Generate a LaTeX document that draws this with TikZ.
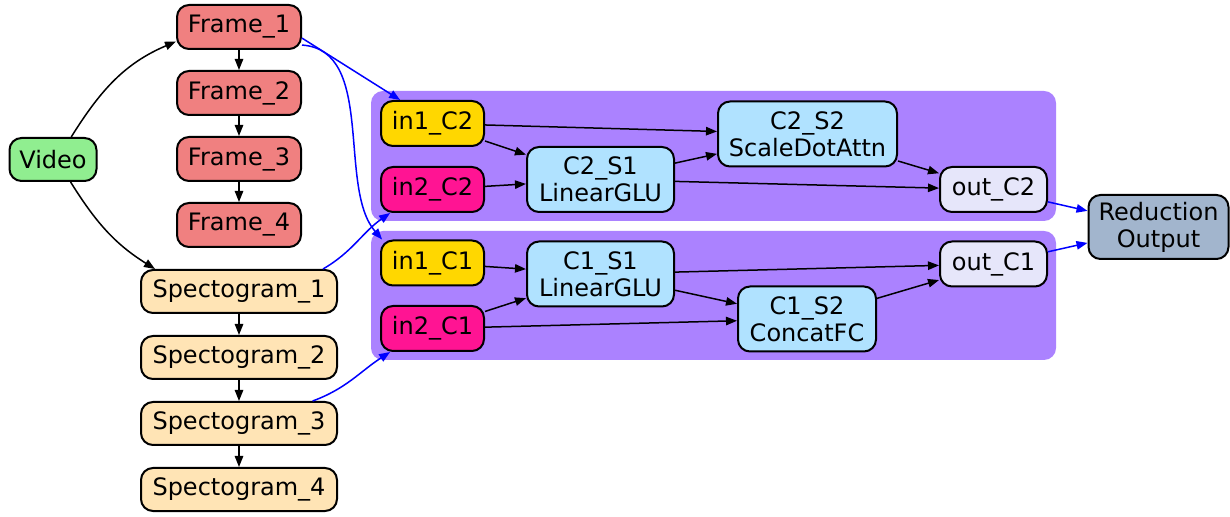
\documentclass[tikz,border=0pt]{standalone}
\usepackage{fontspec}
\setmainfont{DejaVu Sans}
\usepackage{tikz}
\usetikzlibrary{positioning,arrows.meta}
\definecolor{videocol}{HTML}{90EE90}
\definecolor{framecol}{HTML}{F08080}
\definecolor{speccol}{HTML}{FFE4B5}
\definecolor{in1col}{HTML}{FFD700}
\definecolor{in2col}{HTML}{FF1493}
\definecolor{stagecol}{HTML}{B0E2FF}
\definecolor{outcol}{HTML}{E6E6FA}
\definecolor{redcol}{HTML}{A2B5CD}
\definecolor{clustercol}{HTML}{AB82FF}

\begin{document}
\begin{tikzpicture}[x=0.5pt,y=0.5pt,
        box/.style={draw,line width=1pt,rounded corners=6pt,inner sep=0pt,align=center,font=\fontsize{12}{13.5}\selectfont},
        framebox/.style={box,fill=framecol,minimum width=62pt,minimum height=22pt},
        specbox/.style={box,fill=speccol,minimum width=98pt,minimum height=21.5pt},
        inbox/.style={box,minimum width=51.5pt,minimum height=22.5pt},
        stagebox/.style={box,fill=stagecol,minimum height=32.5pt},
        outbox/.style={box,fill=outcol,minimum width=53.5pt,minimum height=22.5pt},
        cluster/.style={fill=clustercol,rounded corners=6pt,inner sep=0pt,minimum width=342.5pt},
        edge/.style={-{Triangle[length=5.5pt,width=4.2pt]},line width=0.75pt},
        link/.style={edge,blue}]
        \useasboundingbox (0,0) rectangle (1230,-517);
        % clusters
        \node[cluster,minimum height=65pt] (clC2) at (713.5,-156) {};
        \node[cluster,minimum height=64.5pt] (clC1) at (713.5,-295.5) {};
        % inputs
        \node[box,fill=videocol,minimum width=43.5pt,minimum height=21.5pt] (video) at (53,-159.5) {Video};
        \node[framebox] (f1) at (239,-27) {Frame\_1};
        \node[framebox,below=10pt of f1] (f2) {Frame\_2};
        \node[framebox,below=10pt of f2] (f3) {Frame\_3};
        \node[framebox,below=10pt of f3] (f4) {Frame\_4};
        \node[specbox] (s1) at (239,-291.5) {Spectogram\_1};
        \node[specbox,below=10.5pt of s1] (s2) {Spectogram\_2};
        \node[specbox,below=10.5pt of s2] (s3) {Spectogram\_3};
        \node[specbox,below=10.5pt of s3] (s4) {Spectogram\_4};
        % C2
        \node[inbox,fill=in1col] (in1C2) at (432.5,-123.5) {in1\_C2};
        \node[inbox,fill=in2col] (in2C2) at (432.5,-189.5) {in2\_C2};
        \node[stagebox,minimum width=73.5pt] (C2S1) at (600.5,-179.5) {C2\_S1\\LinearGLU};
        \node[stagebox,minimum width=89.5pt] (C2S2) at (807.5,-134) {C2\_S2\\ScaleDotAttn};
        \node[outbox] (outC2) at (993.5,-189.5) {out\_C2};
        % C1
        \node[inbox,fill=in1col] (in1C1) at (432.5,-263) {in1\_C1};
        \node[inbox,fill=in2col] (in2C1) at (432.5,-328.5) {in2\_C1};
        \node[stagebox,minimum width=73.5pt] (C1S1) at (600.5,-274) {C1\_S1\\LinearGLU};
        \node[stagebox,minimum width=69pt] (C1S2) at (807,-319) {C1\_S2\\ConcatFC};
        \node[outbox] (outC1) at (993.5,-264) {out\_C1};
        \node[box,fill=redcol,minimum width=70pt,minimum height=32pt] (red) at (1158.5,-227) {Reduction\\Output};
        % edges
        \draw[edge] (video.51) to[out=58,in=203] (f1.193);
        \draw[edge] (video.-52) to[out=-58,in=148] (s1.165);
        \foreach \a/\b in {f1/f2,f2/f3,f3/f4,s1/s2,s2/s3,s3/s4}
            \draw[edge] (\a) -- (\b);
        \foreach \a/\b in {in1C2/C2S2,in1C2/C2S1,in2C2/C2S1,C2S1/C2S2,C2S1/outC2,C2S2/outC2,
                in1C1/C1S1,in2C1/C1S1,in2C1/C1S2,C1S1/C1S2,C1S1/outC1,C1S2/outC1}
            \draw[edge] (\a) -- (\b);
        \draw[link] (f1.-10) -- (in1C2.144);
        \draw[link] (f1.-16) .. controls +(74,-5) and +(-45,52) .. (in1C1.155);
        \draw[link] (s1.15) to[out=30,in=215] (in2C2.209);
        \draw[link] (s3.17) to[out=20,in=213] (in2C1.209);
        \draw[link] (outC2) -- (red);
        \draw[link] (outC1) -- (red);
\end{tikzpicture}
\end{document}
